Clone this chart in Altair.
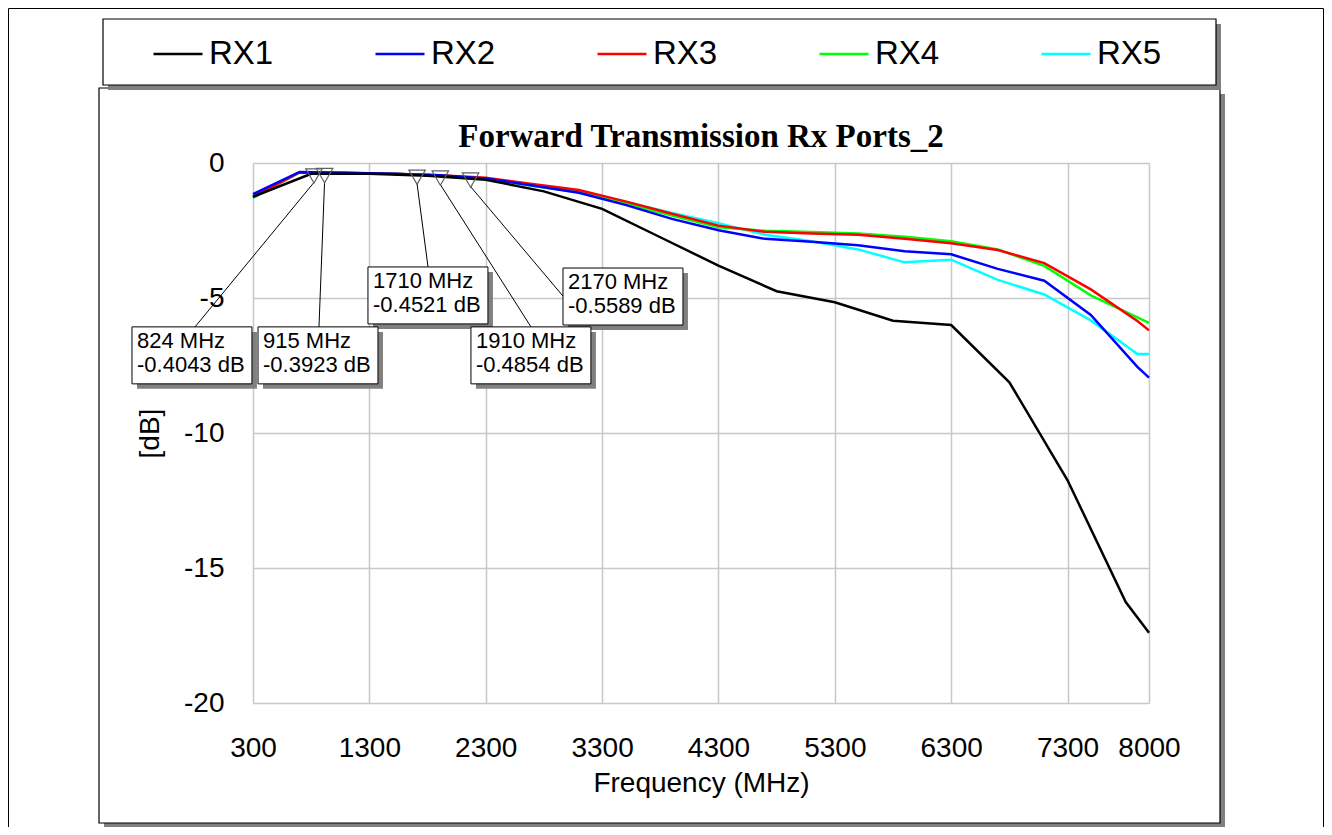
import altair as alt
import pandas as pd

# ---------------- data ----------------
series_names = ["RX1", "RX2", "RX3", "RX4", "RX5"]
series_colors = ["#000000", "#0000ff", "#ff0000", "#00ff00", "#00ffff"]

freq_rx1 = [300, 800, 1300, 1800, 2300, 2800, 3300, 3800, 4300, 4800, 5300,
            5800, 6300, 6800, 7300, 7800, 8000]
db_rx1 = [-1.25, -0.40, -0.40, -0.47, -0.62, -1.05, -1.70, -2.75, -3.80, -4.75,
          -5.16, -5.84, -6.00, -8.12, -11.75, -16.26, -17.40]

freq_rx = [300, 700, 1100, 1500, 1900, 2300, 2700, 3100, 3500, 3900, 4300,
           4700, 5100, 5500, 5900, 6300, 6700, 7100, 7500, 7900, 8000]
db_rx2 = [-1.15, -0.33, -0.36, -0.40, -0.45, -0.57, -0.83, -1.10, -1.55, -2.07,
          -2.49, -2.81, -2.92, -3.05, -3.27, -3.38, -3.92, -4.36, -5.63, -7.55, -7.95]
db_rx3 = [-1.25, -0.35, -0.37, -0.40, -0.45, -0.55, -0.78, -1.00, -1.42, -1.88,
          -2.32, -2.55, -2.61, -2.66, -2.81, -2.97, -3.22, -3.71, -4.68, -5.85, -6.20]
db_rx4 = [-1.27, -0.35, -0.37, -0.40, -0.46, -0.58, -0.84, -1.08, -1.50, -1.95,
          -2.38, -2.51, -2.56, -2.61, -2.73, -2.90, -3.20, -3.81, -4.90, -5.72, -5.92]
db_rx5 = [-1.30, -0.35, -0.37, -0.40, -0.46, -0.58, -0.82, -1.06, -1.43, -1.85,
          -2.23, -2.66, -2.90, -3.20, -3.68, -3.58, -4.33, -4.87, -5.83, -7.07, -7.07]

marker_freq = [824, 915, 1710, 1910, 2170]
marker_db = [-0.4043, -0.3923, -0.4521, -0.4854, -0.5589]

x_ticks = [300, 1300, 2300, 3300, 4300, 5300, 6300, 7300, 8000]
y_ticks = [0, -5, -10, -15, -20]

chart_title = "Forward Transmission Rx Ports_2"
x_title = "Frequency (MHz)"
y_title = "[dB]"

# ---------------- annotation layout (data units) ----------------
box_left_mhz = [-740, 343, 1288, 2173, 2964]
box_top_db = [-6.07, -6.07, -3.85, -6.07, -3.89]
leader_end_mhz = [-198, 867, 1804, 2689, 2964]
leader_end_db = [-6.07, -6.07, -3.85, -6.07, -4.93]
BOX_W_MHZ = 1031
BOX_H_DB = 2.11

# ---------------- tables ----------------
rows = []
series_db = {"RX2": db_rx2, "RX3": db_rx3, "RX4": db_rx4, "RX5": db_rx5}
for name in ["RX5", "RX4", "RX3", "RX2"]:
    for f, v in zip(freq_rx, series_db[name]):
        rows.append({"series": name, "freq": f, "db": v})
for f, v in zip(freq_rx1, db_rx1):
    rows.append({"series": "RX1", "freq": f, "db": v})
df = pd.DataFrame(rows)

ann = pd.DataFrame({
    "freq": marker_freq,
    "db": marker_db,
    "label": [f"{f} MHz\n{v:.4f} dB" for f, v in zip(marker_freq, marker_db)],
    "bx": box_left_mhz,
    "bx2": [b + BOX_W_MHZ for b in box_left_mhz],
    "by": box_top_db,
    "by2": [b - BOX_H_DB for b in box_top_db],
    "ex": leader_end_mhz,
    "ey": leader_end_db,
})

FONT = "Liberation Sans"
xs = alt.Scale(domain=[300, 8000], nice=False, zero=False)
ys = alt.Scale(domain=[-20, 0], nice=False, zero=False)

x_axis = alt.Axis(values=x_ticks, grid=True, gridColor="#c8c8c8", gridWidth=1.5,
                  domain=False, ticks=True, tickSize=0, labelFontSize=28,
                  labelFont=FONT, labelColor="black", labelPadding=45,
                  labelBaseline="middle", labelFlush=False, labelOverlap=False,
                  labelExpr="toString(datum.value)",
                  titleFont=FONT, titleFontSize=28, titleFontWeight="normal",
                  titleColor="black", titleY=80, titleBaseline="middle")
y_axis = alt.Axis(values=y_ticks, grid=True, gridColor="#c8c8c8", gridWidth=1.5,
                  domain=False, ticks=True, tickSize=0, labelFontSize=28,
                  labelFont=FONT, labelColor="black", labelPadding=29,
                  labelBaseline="middle", labelFlush=False, labelOverlap=False,
                  labelExpr="toString(datum.value)",
                  titleFont=FONT, titleFontSize=28, titleFontWeight="normal",
                  titleColor="black", titleX=-103, titleY=270,
                  titleBaseline="middle", titleAlign="center")

legend = alt.Legend(orient="none", legendX=-101, legendY=-135, direction="horizontal",
                    columns=5, symbolType="stroke", symbolSize=2401,
                    symbolStrokeWidth=2.5, labelFontSize=33, labelFont=FONT,
                    labelColor="black", labelOffset=5, columnPadding=96,
                    gridAlign="all", title=None, padding=0)

lines = alt.Chart(df).mark_line(strokeWidth=2.5).encode(
    x=alt.X("freq:Q", scale=xs, axis=x_axis, title=x_title),
    y=alt.Y("db:Q", scale=ys, axis=y_axis, title=y_title),
    color=alt.Color("series:N", scale=alt.Scale(domain=series_names, range=series_colors),
                    legend=legend),
)

base_ann = alt.Chart(ann)
shadow = base_ann.mark_rect(color="#808080", xOffset=5, x2Offset=5, yOffset=5, y2Offset=5).encode(
    x=alt.X("bx:Q", scale=xs, title=x_title), x2="bx2:Q",
    y=alt.Y("by:Q", scale=ys, title=y_title), y2="by2:Q")
boxes = base_ann.mark_rect(fill="white", stroke="black", strokeWidth=1).encode(
    x=alt.X("bx:Q", scale=xs, title=x_title), x2="bx2:Q",
    y=alt.Y("by:Q", scale=ys, title=y_title), y2="by2:Q")
leaders = base_ann.mark_rule(color="black", strokeWidth=1, yOffset=8.5).encode(
    x=alt.X("freq:Q", scale=xs, title=x_title), x2="ex:Q",
    y=alt.Y("db:Q", scale=ys, title=y_title), y2="ey:Q")
tris = base_ann.mark_point(shape="triangle-down", size=272, filled=False, color="#606060",
                           strokeWidth=1.2, opacity=1, yOffset=2).encode(
    x=alt.X("freq:Q", scale=xs, title=x_title),
    y=alt.Y("db:Q", scale=ys, title=y_title))
texts = base_ann.mark_text(align="left", baseline="top", dx=5, dy=4, fontSize=22,
                           font=FONT, lineBreak="\n", lineHeight=24, color="black").encode(
    x=alt.X("bx:Q", scale=xs, title=x_title),
    y=alt.Y("by:Q", scale=ys, title=y_title),
    text="label:N")

one = pd.DataFrame({"t": [chart_title]})


def frame(x1, x2, y1, y2, fill=None, stroke=None, sw=1.0):
    kw = {"fill": fill if fill is not None else "transparent"}
    if stroke is not None:
        kw["stroke"] = stroke
        kw["strokeWidth"] = sw
    return alt.Chart(one).mark_rect(**kw).encode(
        x=alt.value(x1), x2=alt.value(x2), y=alt.value(y1), y2=alt.value(y2))


decor = [
    frame(-244.5, 1070.5, -154.5, 700, stroke="black", sw=1),          # outer frame
    frame(967, 972, -69, 665, fill="#808080"),                         # panel shadow right
    frame(-149, 972, 660, 665, fill="#808080"),                        # panel shadow bottom
    frame(-154, 967, -75, 660, stroke="black", sw=1.2),                # panel
    frame(963, 968, -139, -73, fill="#808080"),                        # legend shadow right
    frame(-145, 968, -78, -73, fill="#808080"),                        # legend shadow bottom
    frame(-150, 963, -144, -78, stroke="black", sw=1.2),               # legend box
]

title = alt.Chart(one).mark_text(align="center", baseline="alphabetic", font="Liberation Serif",
                                 fontSize=33, fontWeight="bold", color="black").encode(
    x=alt.value(448), y=alt.value(-16), text="t:N")

chart = alt.layer(*decor, lines, shadow, boxes, leaders, tris, texts, title).properties(
    width=896, height=540,
    autosize=alt.AutoSizeParams(type="none"),
    padding={"left": 245, "top": 155, "right": 175, "bottom": 124},
).configure_view(stroke="black", strokeWidth=1.5).configure(background="white")

chart.save("out.html", embed_options={"renderer": "svg", "actions": False})
